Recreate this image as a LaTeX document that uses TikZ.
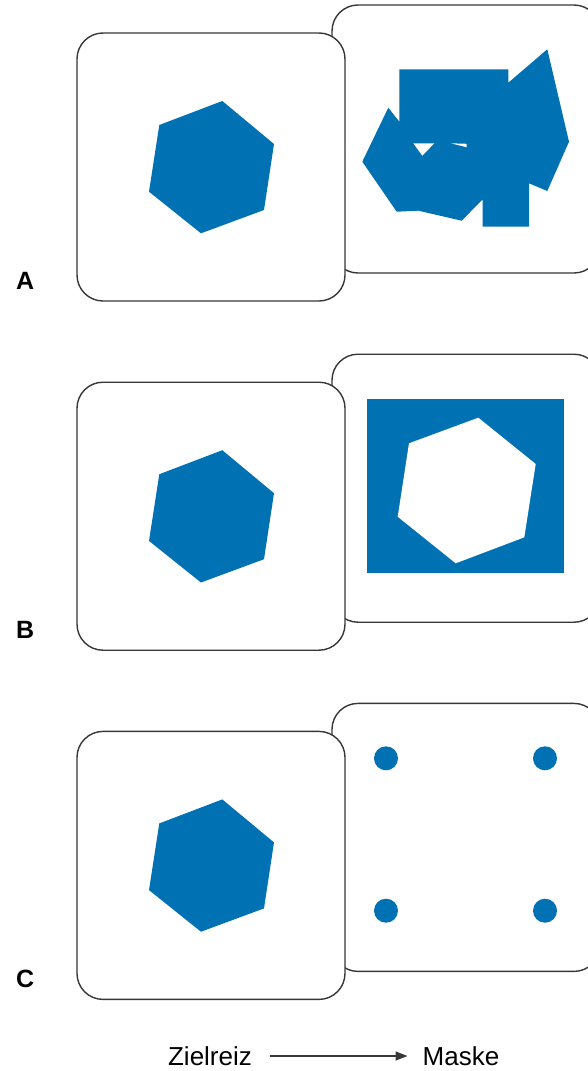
\documentclass[tikz,border=0pt]{standalone}
\usepackage{fontspec}
\setmainfont{Liberation Sans}
\usetikzlibrary{arrows.meta}
\definecolor{maskblue}{RGB}{0,114,180}
\definecolor{edgegray}{RGB}{55,55,55}
\begin{document}
\begin{tikzpicture}[x=1pt,y=-1pt,
  card/.style={draw=edgegray,line width=1.4pt,fill=white,rounded corners=26pt,
               minimum width=268pt,minimum height=268pt,inner sep=0pt},
  blueshape/.style={fill=maskblue},
  hole/.style={fill=white},
  panellabel/.style={font=\fontsize{25}{29}\selectfont\bfseries,anchor=base west,inner sep=0pt},
  caption/.style={font=\fontsize{26}{31}\selectfont,inner sep=0pt},
  flow/.style={draw=edgegray,line width=1.3pt,-{Triangle[length=12pt,width=9pt]}}]
\clip (0,0) rectangle (588,1071);
% back cards (masks)
\foreach \L/\dy in {A/0,B/349.2,C/698.4}{
  \node[card] (back\L) at (466,{139+\dy}) {};
}
% mask A: overlapping random shapes
\fill[blueshape] (399.3,69.3) -- (508.3,69.3) -- (508.3,82.7) -- (547.3,49.3)
  -- (569,141.7) -- (547.3,191) -- (529,183.3) -- (529,226.7) -- (482.7,226.7)
  -- (482.7,199.3) -- (461.7,220.7) -- (418.3,210.7) -- (396.7,211.7)
  -- (362.3,161.7) -- (388.3,107.7) -- (399.3,121.7) -- cycle;
\fill[hole] (413.3,143.3) -- (434.3,143.3) -- (422.3,155.7) -- cycle;
\fill[hole] (451,143.3) -- (466.7,143.8) -- (466.7,147.3) -- cycle;
% mask B: blue square with white hexagon hole
\fill[blueshape] (367.3,399) rectangle (564.3,573.3);
\fill[hole] (478.3,417.7) -- (535.7,464) -- (524.3,537.3) -- (455.7,563.3)
  -- (397.7,516.7) -- (409,443.3) -- cycle;
% mask C: four dots
\foreach \px/\py in {386/758.3,545/758.3,386/910.7,545/910.7}
  \fill[blueshape] (\px,\py) circle[radius=12pt];
% front cards (targets)
\foreach \L/\dy in {A/0,B/349.2,C/698.4}{
  \begin{scope}[yshift={-\dy pt}]
    \node[card] (front\L) at (211,167) {};
    \fill[blueshape] (222.3,101) -- (274,144) -- (264,210) -- (201,233.3)
      -- (149,191.7) -- (159.3,125) -- cycle;
    \node[panellabel] (label\L) at (16,289) {\L};
  \end{scope}
}
% caption
\node[caption] (target) at (210,1056) {Zielreiz};
\node[caption] (mask) at (461,1056) {Maske};
\draw[flow,shorten <=18pt,shorten >=15pt] (target) -- (mask);
\end{tikzpicture}
\end{document}
